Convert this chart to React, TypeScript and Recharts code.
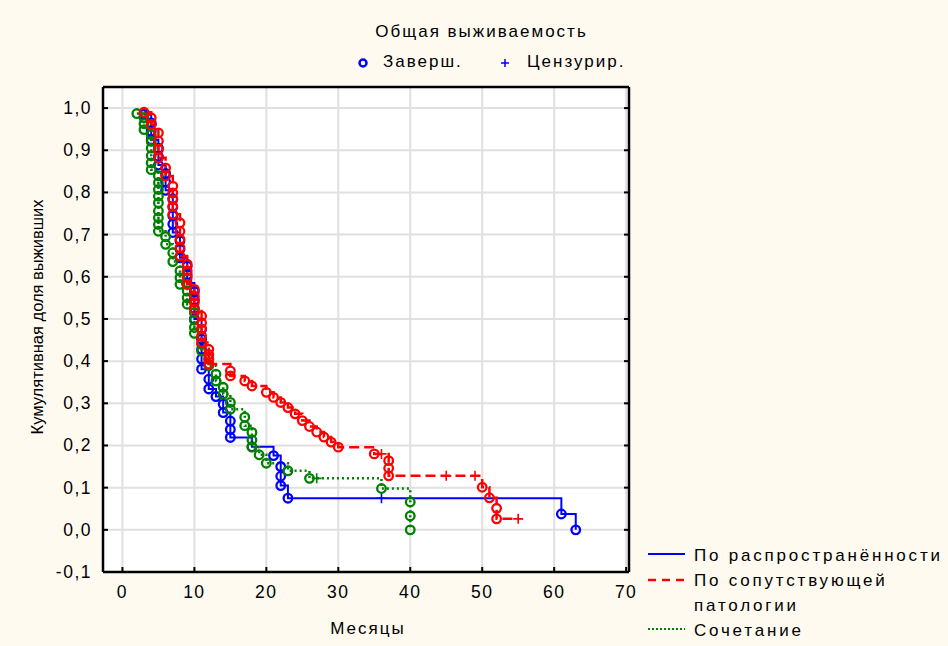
import React from "react";
import { ComposedChart, Line, XAxis, YAxis, CartesianGrid } from "recharts";

// months, survival share — completed events (circles) and censored cases (+)
const spreadEvents: number[][] = [
  [3, 0.985], [4, 0.965], [4, 0.945], [4, 0.925], [5, 0.905], [5, 0.885], [5, 0.865],
  [6, 0.845], [6, 0.825], [6, 0.805], [7, 0.785], [7, 0.765], [7, 0.745], [7, 0.725], [7, 0.705],
  [8, 0.685], [8, 0.665], [8, 0.645], [9, 0.625], [9, 0.605], [9, 0.585],
  [10, 0.565], [10, 0.545], [10, 0.525], [10, 0.5],
  [11, 0.476], [11, 0.452], [11, 0.428], [11, 0.405], [11, 0.381],
  [12, 0.357], [12, 0.334], [13, 0.316], [14, 0.298], [14, 0.278],
  [15, 0.258], [15, 0.238], [15, 0.219], [18, 0.197], [21, 0.176],
  [22, 0.15], [22, 0.127], [22, 0.105], [23, 0.075], [61, 0.0375], [63, 0],
];
const spreadCensored: number[][] = [[36, 0.075]];

const comorbEvents: number[][] = [
  [3, 0.99], [4, 0.977], [4, 0.961], [5, 0.941], [5, 0.922], [5, 0.902], [5, 0.882],
  [6, 0.858], [6, 0.839], [7, 0.815], [7, 0.799], [7, 0.783], [7, 0.767], [7, 0.748],
  [8, 0.728], [8, 0.708], [8, 0.689], [8, 0.669], [8, 0.649],
  [9, 0.63], [9, 0.614], [9, 0.598], [9, 0.582],
  [10, 0.57], [10, 0.554], [10, 0.539], [10, 0.523],
  [11, 0.507], [11, 0.491], [11, 0.476], [11, 0.46], [11, 0.444],
  [12, 0.428], [12, 0.416], [12, 0.405], [12, 0.393],
  [15, 0.377], [15, 0.365], [17, 0.353], [18, 0.341], [20, 0.326], [21, 0.314],
  [22, 0.302], [23, 0.29], [24, 0.275], [25, 0.259], [26, 0.245], [27, 0.232],
  [28, 0.22], [29, 0.208], [30, 0.196], [35, 0.18],
  [37, 0.164], [37, 0.146], [37, 0.128], [50, 0.101], [51, 0.076], [52, 0.051], [52, 0.026],
];
const comorbCensored: number[][] = [[36, 0.18], [45, 0.128], [49, 0.128], [55, 0.026]];

const comboEvents: number[][] = [
  [2, 0.987], [3, 0.977], [3, 0.963], [3, 0.949],
  [4, 0.937], [4, 0.921], [4, 0.905], [4, 0.887], [4, 0.87], [4, 0.854],
  [5, 0.839], [5, 0.823], [5, 0.807], [5, 0.791], [5, 0.775], [5, 0.756], [5, 0.74], [5, 0.724], [5, 0.708],
  [6, 0.695], [6, 0.677], [7, 0.657], [7, 0.636], [8, 0.614], [8, 0.598], [8, 0.582],
  [9, 0.566], [9, 0.55], [9, 0.535], [10, 0.515], [10, 0.497], [10, 0.48], [10, 0.466],
  [11, 0.44], [11, 0.424], [12, 0.405], [12, 0.389], [13, 0.369], [13, 0.353],
  [14, 0.338], [14, 0.322], [15, 0.302], [15, 0.286], [17, 0.267], [17, 0.247],
  [18, 0.231], [18, 0.213], [18, 0.196], [19, 0.178], [20, 0.158], [23, 0.14],
  [26, 0.122], [36, 0.098], [40, 0.066], [40, 0.033], [40, 0],
];
const comboCensored: number[][] = [[27, 0.122]];

const xTicks = [0, 10, 20, 30, 40, 50, 60, 70];
const yTicks = [-0.1, 0, 0.1, 0.2, 0.3, 0.4, 0.5, 0.6, 0.7, 0.8, 0.9, 1.0];

const toRows = (events: number[][], censored: number[][]) =>
  [
    ...events.map(([x, y]) => ({ x, y, censored: false })),
    ...censored.map(([x, y]) => ({ x, y, censored: true })),
  ].sort((a, b) => a.x - b.x || b.y - a.y);

const spreadData = toRows(spreadEvents, spreadCensored);
const comorbData = toRows(comorbEvents, comorbCensored);
const comboData = toRows(comboEvents, comboCensored);

const FONT = "'Liberation Sans', Arial, sans-serif";
const fmt = (v: number) => v.toFixed(1).replace(".", ",").replace("-0,0", "0,0");

const makeDot = (color: string) => (p: any) => {
  const { cx, cy, index, payload } = p;
  if (cx == null || cy == null) return <g key={index} />;
  if (payload && payload.censored) {
    return (
      <path
        key={index}
        d={`M${cx - 5},${cy}H${cx + 5}M${cx},${cy - 5}V${cy + 5}`}
        stroke={color}
        strokeWidth={1.6}
        fill="none"
      />
    );
  }
  return <circle key={index} cx={cx} cy={cy} r={4.3} stroke={color} strokeWidth={2.3} fill="none" />;
};

const BottomTick = (p: any) => (
  <g>
    <line x1={p.x} y1={p.y} x2={p.x} y2={p.y - 5} stroke="#000" strokeWidth={2} />
    <text x={p.x} y={p.y + 26} textAnchor="middle" fontSize={17.5} fontFamily={FONT} letterSpacing={1.5} fill="#000">
      {p.payload.value}
    </text>
  </g>
);
const TopTick = (p: any) => (
  <line x1={p.x} y1={p.y} x2={p.x} y2={p.y + 5} stroke="#000" strokeWidth={2} />
);
const LeftTick = (p: any) => (
  <g>
    <line x1={p.x} y1={p.y} x2={p.x + 5} y2={p.y} stroke="#000" strokeWidth={2} />
    <text x={p.x - 11} y={p.y + 6} textAnchor="end" fontSize={17.5} fontFamily={FONT} letterSpacing={1.5} fill="#000">
      {fmt(p.payload.value)}
    </text>
  </g>
);
const RightTick = (p: any) => (
  <line x1={p.x} y1={p.y} x2={p.x - 5} y2={p.y} stroke="#000" strokeWidth={2} />
);

const txt: React.CSSProperties = {
  position: "absolute",
  fontFamily: FONT,
  fontSize: 17,
  color: "#000",
  whiteSpace: "nowrap",
};

const frame = { stroke: "#000", strokeWidth: 2.5 };

export default function App() {
  return (
    <div
      style={{
        position: "absolute",
        left: 0,
        top: 0,
        width: 948,
        height: 646,
        background: "#FFFAF0",
        overflow: "hidden",
      }}
    >
      <ComposedChart
        width={948}
        height={646}
        margin={{ top: 86, right: 318, bottom: 73, left: 102 }}
      >
        <CartesianGrid stroke="#e0e0e0" strokeWidth={2} fill="#fff" />
        <XAxis
          dataKey="x"
          type="number"
          domain={[-2.7, 70.4]}
          ticks={xTicks}
          interval={0}
          allowDataOverflow
          height={1}
          tickSize={0}
          tickMargin={0}
          tickLine={false}
          tick={BottomTick}
          axisLine={frame}
        />
        <XAxis
          xAxisId="top"
          orientation="top"
          type="number"
          domain={[-2.7, 70.4]}
          ticks={xTicks}
          interval={0}
          allowDataOverflow
          height={1}
          tickSize={0}
          tickMargin={0}
          tickLine={false}
          tick={TopTick}
          axisLine={frame}
        />
        <YAxis
          dataKey="y"
          type="number"
          domain={[-0.1, 1.05]}
          ticks={yTicks}
          interval={0}
          allowDataOverflow
          width={1}
          tickSize={0}
          tickMargin={0}
          tickLine={false}
          tick={LeftTick}
          axisLine={frame}
        />
        <YAxis
          yAxisId="right"
          orientation="right"
          type="number"
          domain={[-0.1, 1.05]}
          ticks={yTicks}
          interval={0}
          allowDataOverflow
          width={1}
          tickSize={0}
          tickMargin={0}
          tickLine={false}
          tick={RightTick}
          axisLine={frame}
        />
        <Line
          data={spreadData}
          dataKey="y"
          type="stepAfter"
          stroke="#0000ff"
          strokeWidth={2}
          dot={makeDot("#0000ff")}
          activeDot={false}
          isAnimationActive={false}
        />
        <Line
          data={comboData}
          dataKey="y"
          type="stepAfter"
          stroke="#008000"
          strokeWidth={2.5}
          strokeDasharray="2 3"
          dot={makeDot("#008000")}
          activeDot={false}
          isAnimationActive={false}
        />
        <Line
          data={comorbData}
          dataKey="y"
          type="stepAfter"
          stroke="#ff0000"
          strokeWidth={2.5}
          strokeDasharray="10 5"
          dot={makeDot("#ff0000")}
          activeDot={false}
          isAnimationActive={false}
        />
      </ComposedChart>

      <div style={{ ...txt, left: 375, top: 22, width: 213, textAlign: "center", letterSpacing: 2 }}>
        Общая выживаемость
      </div>
      <svg style={{ position: "absolute", left: 355, top: 55 }} width={16} height={16}>
        <circle cx={8} cy={8} r={3.5} stroke="#0000ff" strokeWidth={2.5} fill="none" />
      </svg>
      <div style={{ ...txt, left: 383, top: 52, letterSpacing: 2 }}>Заверш.</div>
      <svg style={{ position: "absolute", left: 497, top: 55 }} width={16} height={16}>
        <path d="M4,8H12M8,4V12" stroke="#0000ff" strokeWidth={1.5} />
      </svg>
      <div style={{ ...txt, left: 527, top: 52, letterSpacing: 2 }}>Цензурир.</div>

      <div
        style={{
          ...txt,
          left: 37 - 150,
          top: 317 - 10,
          width: 300,
          height: 20,
          lineHeight: "20px",
          textAlign: "center",
          fontSize: 16.5,
          transform: "rotate(-90deg)",
        }}
      >
        Кумулятивная доля выживших
      </div>
      <div style={{ ...txt, left: 268, top: 619, width: 200, textAlign: "center", letterSpacing: 2 }}>
        Месяцы
      </div>

      <svg style={{ position: "absolute", left: 645, top: 540 }} width={45} height={100}>
        <line x1={3} y1={14} x2={40} y2={14} stroke="#0000ff" strokeWidth={2} />
        <line x1={3} y1={40} x2={40} y2={40} stroke="#ff0000" strokeWidth={2.5} strokeDasharray="8 6" />
        <line x1={3} y1={89} x2={40} y2={89} stroke="#008000" strokeWidth={2} strokeDasharray="2 2" />
      </svg>
      <div style={{ ...txt, left: 694, top: 543, letterSpacing: 2.8, lineHeight: "25px" }}>
        По распространённости
        <br />
        По сопутствующей
        <br />
        патологии
        <br />
        Сочетание
      </div>
    </div>
  );
}
